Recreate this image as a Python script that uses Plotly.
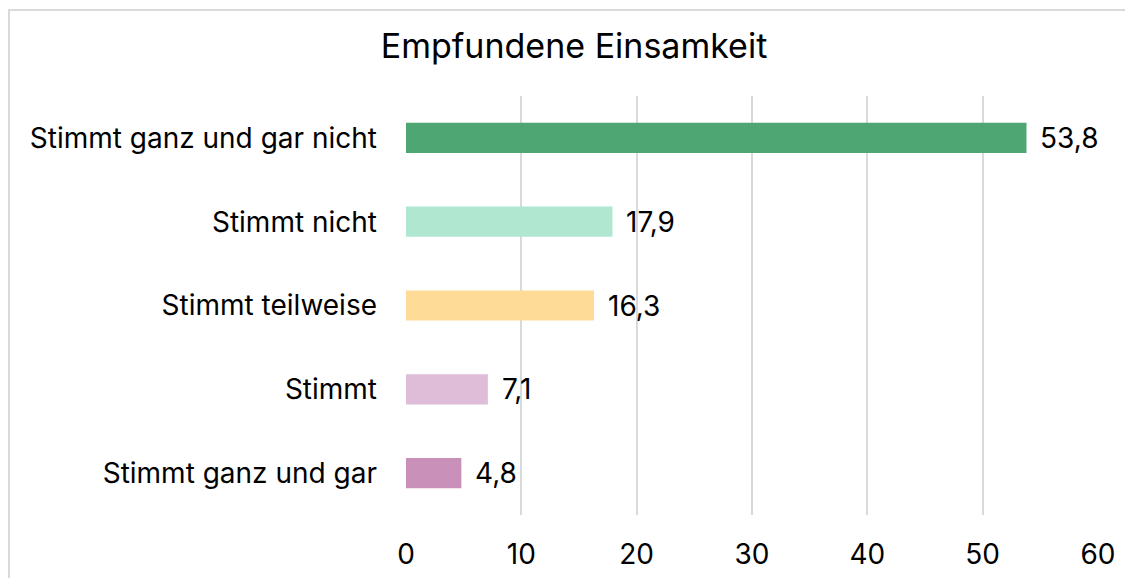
import plotly.graph_objects as go

# Survey answers and their shares (percent)
categories = [
    "Stimmt ganz und gar nicht",
    "Stimmt nicht",
    "Stimmt teilweise",
    "Stimmt",
    "Stimmt ganz und gar",
]
values = [53.8, 17.9, 16.3, 7.1, 4.8]
colors = ["#4ea673", "#b0e7d1", "#fedb97", "#dfbdd8", "#c991b9"]
x_ticks = [0, 10, 20, 30, 40, 50, 60]
title_text = "Empfundene Einsamkeit"

FONT = "Inter"
W, H = 1125, 578
L, R, T, B = 406, 27, 96, 63

fig = go.Figure(
    go.Bar(
        x=values,
        y=categories,
        orientation="h",
        marker=dict(color=colors, line=dict(width=0)),
        width=0.36,
        hoverinfo="x+y",
    )
)

# value labels to the right of each bar
for v, c in zip(values, categories):
    fig.add_annotation(
        x=v, y=c, xref="x", yref="y",
        text=f"{v:.1f}".replace(".", ","),
        showarrow=False, xanchor="left", yanchor="middle", xshift=12,
        font=dict(family=FONT, size=28, color="#000000"),
    )

# outer chart frame (starts slightly inside the page, runs off right/bottom)
pw, ph = W - L - R, H - T - B
fig.add_shape(
    type="rect", xref="paper", yref="paper",
    x0=(9 - L) / pw, x1=(W + 20 - L) / pw,
    y0=(H - B - (H + 20)) / ph, y1=(H - B - 10) / ph,
    line=dict(color="#d9d9d9", width=2), fillcolor="rgba(0,0,0,0)",
    layer="below",
)

fig.update_layout(
    width=W, height=H,
    margin=dict(l=L, r=R, t=T, b=B, pad=0, autoexpand=False),
    paper_bgcolor="white", plot_bgcolor="white",
    separators=",.",
    showlegend=False,
    title=dict(
        text=title_text, x=574 / W, xanchor="center",
        y=1 - 46 / H, yanchor="middle",
        font=dict(family=FONT, size=34, color="#000000"),
    ),
    xaxis=dict(
        range=[0, 60], tickvals=x_ticks, showgrid=True,
        gridcolor="#d9d9d9", gridwidth=2, zeroline=False,
        showline=False, ticks="", ticklabelstandoff=20, automargin=False,
        tickfont=dict(family=FONT, size=28, color="#000000"),
    ),
    yaxis=dict(
        categoryorder="array", categoryarray=categories,
        autorange="reversed", showgrid=False, zeroline=False,
        showline=False, ticks="", ticklabelstandoff=28, automargin=False,
        tickfont=dict(family=FONT, size=28, color="#000000"),
    ),
)

fig.write_html("out.html")
